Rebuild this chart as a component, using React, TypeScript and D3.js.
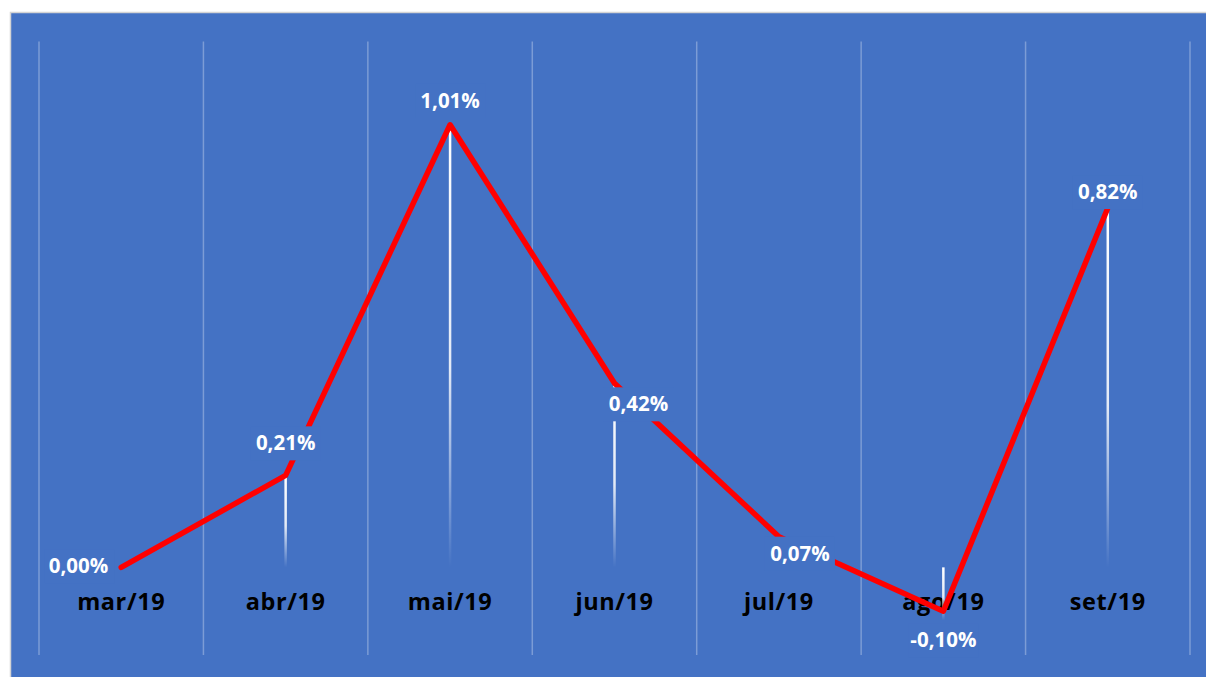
import React from 'react';
import * as d3 from 'd3';

// monthly variation (%)
const months = ['mar/19', 'abr/19', 'mai/19', 'jun/19', 'jul/19', 'ago/19', 'set/19'];
const values = [0.0, 0.21, 1.01, 0.42, 0.07, -0.1, 0.82];
const labels = ['0,00%', '0,21%', '1,01%', '0,42%', '0,07%', '-0,10%', '0,82%'];

const W = 1206;
const H = 677;
const BG = '#4472C4';
const FONT = "'Open Sans', 'Noto Sans', sans-serif";

// label placement relative to the point, the way it sits in the original
const labelPlace: Record<string, { dx: number; dy: number; anchor: string }> = {
  'mar/19': { dx: -13, dy: -1, anchor: 'end' },
  'abr/19': { dx: 0, dy: -32, anchor: 'middle' },
  'mai/19': { dx: 0, dy: -24, anchor: 'middle' },
  'jun/19': { dx: 24, dy: 21, anchor: 'middle' },
  'jul/19': { dx: 21, dy: 17, anchor: 'middle' },
  'ago/19': { dx: 0, dy: 29, anchor: 'middle' },
  'set/19': { dx: 0, dy: -16, anchor: 'middle' },
};

export default function App() {
  const x = d3.scaleBand<string>().domain(months).range([39, 1190]).paddingInner(0).paddingOuter(0);
  const y = d3.scaleLinear().domain([-0.2, 1.2]).range([655, 41.5]);
  const cx = (m: string) => (x(m) as number) + x.bandwidth() / 2;
  const y0 = y(0);

  const pts = months.map((m, i) => ({ m, v: values[i], label: labels[i] }));
  const line = d3
    .line<{ m: string; v: number }>()
    .x((d) => cx(d.m))
    .y((d) => y(d.v));

  // gridlines sit on the category boundaries
  const grid = months.map((m) => x(m) as number).concat([(x(months[months.length - 1]) as number) + x.bandwidth()]);

  const labelW = 70;
  const labelH = 34;

  return (
    <div style={{ position: 'fixed', left: 0, top: 0, width: W, height: H, background: '#fff' }}>
      <svg width={W} height={H} style={{ display: 'block' }}>
        <defs>
          <linearGradient id="drop" x1="0" y1="0" x2="0" y2="1">
            <stop offset="0%" stopColor="#fff" stopOpacity={1} />
            <stop offset="55%" stopColor="#fff" stopOpacity={0.85} />
            <stop offset="100%" stopColor="#fff" stopOpacity={0} />
          </linearGradient>
        </defs>
        <rect x={10.5} y={12.5} width={W} height={H} fill={BG} stroke="#d4d4d4" strokeWidth={1.5} />

        {grid.map((gx, i) => (
          <line key={'g' + i} x1={gx} x2={gx} y1={y.range()[1]} y2={y.range()[0]} stroke="rgba(255,255,255,0.3)" strokeWidth={1.5} />
        ))}

        {months.map((m) => (
          <text
            key={'c' + m}
            x={cx(m)}
            y={y0 + 43}
            textAnchor="middle"
            fontFamily={FONT}
            fontWeight={700}
            fontSize={23.5}
            letterSpacing={0.6}
            fill="#000"
          >
            {m}
          </text>
        ))}

        {pts
          .filter((d) => d.v !== 0)
          .map((d) => {
            const top = d.v > 0 ? y(d.v) : y0;
            const bot = d.v > 0 ? y0 : y(d.v) + 9;
            return <rect key={'d' + d.m} x={cx(d.m) - 1.25} y={top} width={2.5} height={bot - top} fill="url(#drop)" />;
          })}

        <path d={line(pts) || ''} fill="none" stroke="#FF0000" strokeWidth={5.5} strokeLinecap="round" strokeLinejoin="round" />

        {pts.map((d) => {
          const p = labelPlace[d.m];
          const lx = cx(d.m) + p.dx;
          const ly = y(d.v) + p.dy;
          const bx = p.anchor === 'end' ? lx - labelW + 6 : lx - labelW / 2;
          return (
            <g key={'l' + d.m}>
              <rect x={bx} y={ly - labelH / 2} width={labelW} height={labelH} fill={BG} />
              <text
                x={lx}
                y={ly + 7}
                textAnchor={p.anchor}
                fontFamily={FONT}
                fontWeight={700}
                fontSize={20.5}
                fill="#fff"
              >
                {d.label}
              </text>
            </g>
          );
        })}
      </svg>
    </div>
  );
}
